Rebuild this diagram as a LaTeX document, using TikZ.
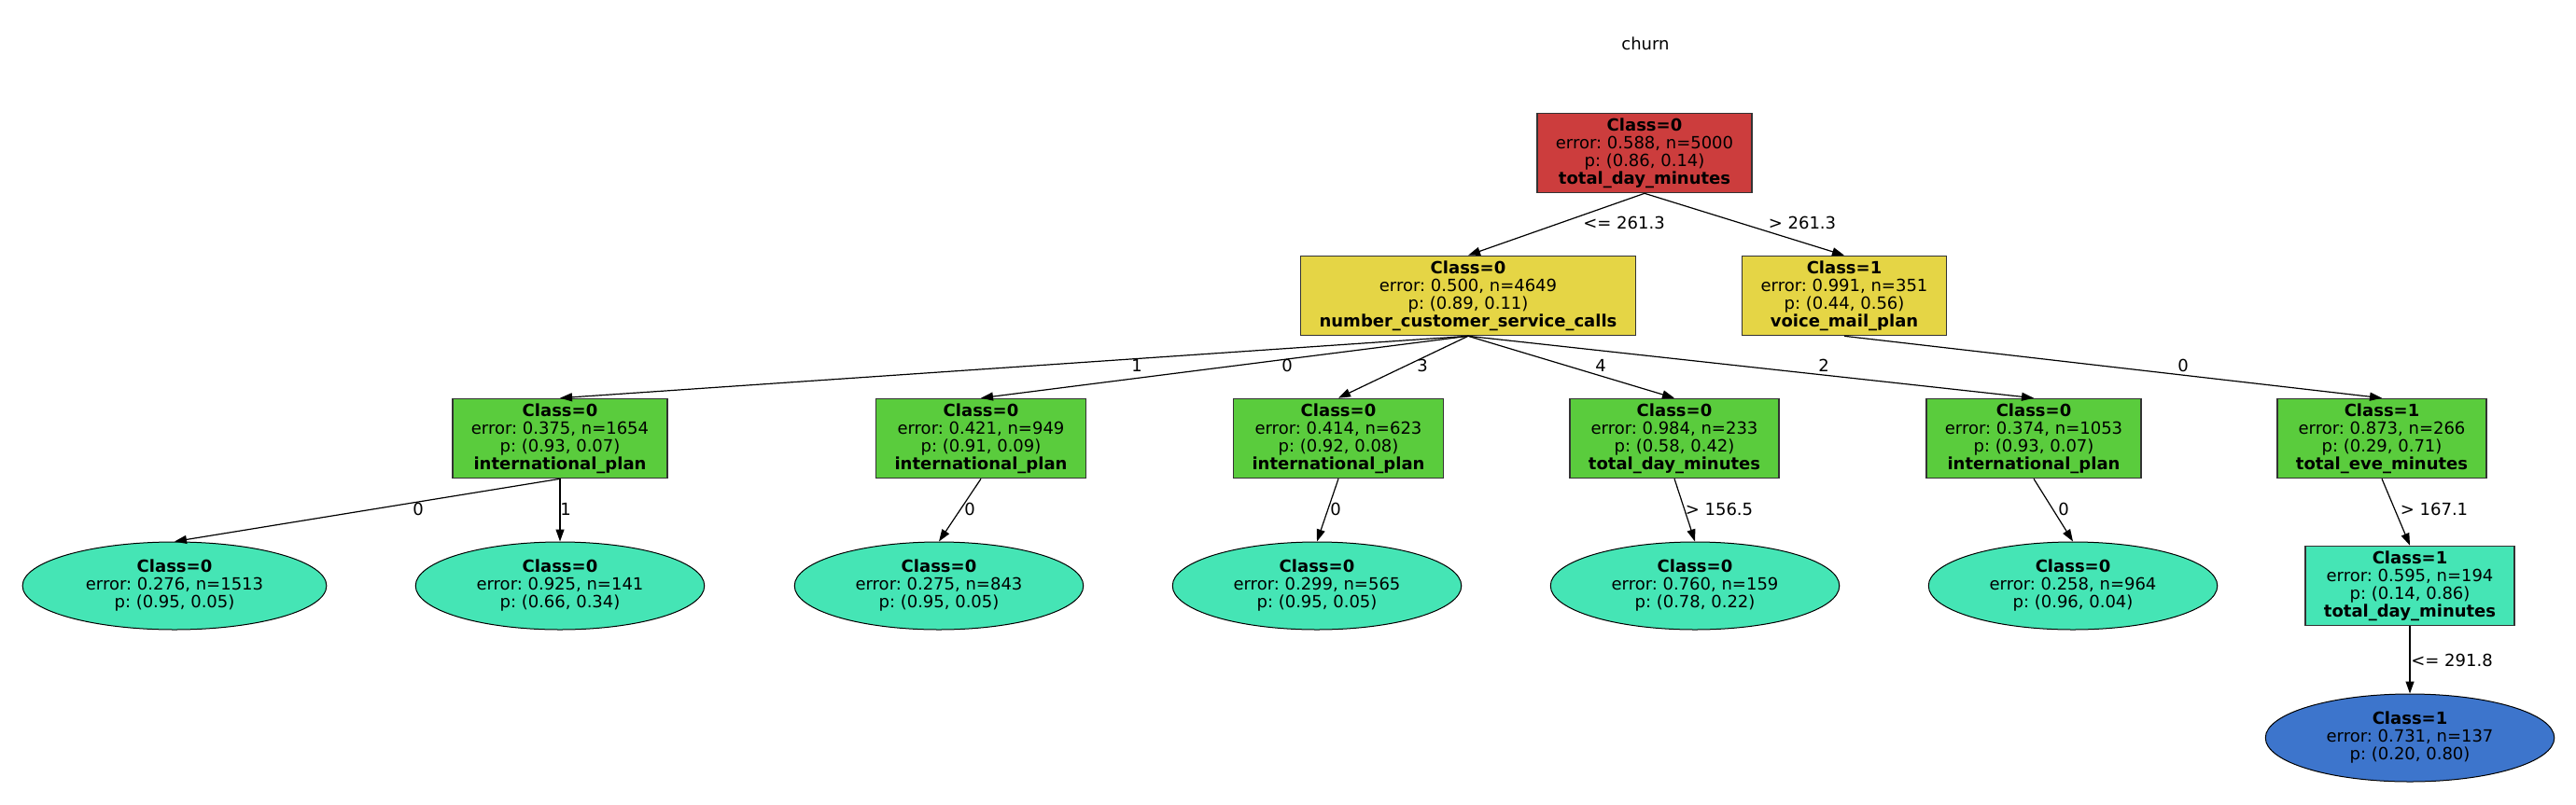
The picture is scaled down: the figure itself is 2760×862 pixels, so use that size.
\documentclass[tikz,border=0pt]{standalone}
\usepackage{fontspec}
\setmainfont{DejaVu Sans}
\usepackage{tikz}
\usetikzlibrary{arrows.meta,shapes.geometric}
\definecolor{rootred}{RGB}{204,61,61}
\definecolor{splityellow}{RGB}{229,213,69}
\definecolor{splitgreen}{RGB}{90,204,61}
\definecolor{leafteal}{RGB}{69,229,181}
\definecolor{leafblue}{RGB}{61,117,204}
\def\splitinfo#1#2#3#4{\textbf{#1}\\error: #2\\p: #3\\\textbf{#4}}
\def\leafinfo#1#2#3{\textbf{#1}\\error: #2\\p: #3}
\frenchspacing
\tikzset{
	every node/.style={font=\fontsize{9}{9.5}\selectfont},
	split/.style={draw=black!80, line width=0.8pt, rectangle, align=center, inner xsep=10pt, inner ysep=2.5pt, minimum height=42.5pt},
	leaf/.style={draw=black, line width=0.5pt, ellipse, align=center, inner xsep=10pt, inner ysep=2.5pt, minimum height=47pt},
	branch/.style={-{Triangle[length=6.5pt,width=4.5pt]}, line width=0.6pt},
	cond/.style={inner sep=0pt}
}

\begin{document}
\begin{tikzpicture}[x=0.5pt,y=-0.5pt]
		%%%%% START %%%%%
		\useasboundingbox (0,0) rectangle (2760,862);
		
		\node (title) at (1763,47) {churn};
		
		\node[split, fill=rootred] (root) at (1762,164) {\splitinfo{Class=0}{0.588, n=5000}{(0.86, 0.14)}{total\_day\_minutes}};
		
		\node[split, fill=splityellow] (calls) at (1573,317) {\splitinfo{Class=0}{0.500, n=4649}{(0.89, 0.11)}{number\_customer\_service\_calls}};
		\node[split, fill=splityellow] (vmail) at (1976,317) {\splitinfo{Class=1}{0.991, n=351}{(0.44, 0.56)}{voice\_mail\_plan}};
		
		\node[split, fill=splitgreen] (intlA) at (600,470) {\splitinfo{Class=0}{0.375, n=1654}{(0.93, 0.07)}{international\_plan}};
		\node[split, fill=splitgreen] (intlB) at (1051,470) {\splitinfo{Class=0}{0.421, n=949}{(0.91, 0.09)}{international\_plan}};
		\node[split, fill=splitgreen] (intlC) at (1434,470) {\splitinfo{Class=0}{0.414, n=623}{(0.92, 0.08)}{international\_plan}};
		\node[split, fill=splitgreen] (dayA) at (1794,470) {\splitinfo{Class=0}{0.984, n=233}{(0.58, 0.42)}{total\_day\_minutes}};
		\node[split, fill=splitgreen] (intlD) at (2179,470) {\splitinfo{Class=0}{0.374, n=1053}{(0.93, 0.07)}{international\_plan}};
		\node[split, fill=splitgreen] (eve) at (2552,470) {\splitinfo{Class=1}{0.873, n=266}{(0.29, 0.71)}{total\_eve\_minutes}};
		
		\node[leaf, fill=leafteal] (leafA) at (187,628) {\leafinfo{Class=0}{0.276, n=1513}{(0.95, 0.05)}};
		\node[leaf, fill=leafteal] (leafB) at (600,628) {\leafinfo{Class=0}{0.925, n=141}{(0.66, 0.34)}};
		\node[leaf, fill=leafteal] (leafC) at (1006,628) {\leafinfo{Class=0}{0.275, n=843}{(0.95, 0.05)}};
		\node[leaf, fill=leafteal] (leafD) at (1411,628) {\leafinfo{Class=0}{0.299, n=565}{(0.95, 0.05)}};
		\node[leaf, fill=leafteal] (leafE) at (1816,628) {\leafinfo{Class=0}{0.760, n=159}{(0.78, 0.22)}};
		\node[leaf, fill=leafteal] (leafF) at (2221,628) {\leafinfo{Class=0}{0.258, n=964}{(0.96, 0.04)}};
		\node[split, fill=leafteal] (dayB) at (2582,628) {\splitinfo{Class=1}{0.595, n=194}{(0.14, 0.86)}{total\_day\_minutes}};
		
		\node[leaf, fill=leafblue] (leafG) at (2582,791) {\leafinfo{Class=1}{0.731, n=137}{(0.20, 0.80)}};
		
		% branches
		\draw[branch] (root.south) -- (calls.north);
		\draw[branch] (root.south) -- (vmail.north);
		\draw[branch] (calls.south) -- (intlA.north);
		\draw[branch] (calls.south) -- (intlB.north);
		\draw[branch] (calls.south) -- (intlC.north);
		\draw[branch] (calls.south) -- (dayA.north);
		\draw[branch] (calls.south) -- (intlD.north);
		\draw[branch] (vmail.south) -- (eve.north);
		\draw[branch] (intlA.south) -- (leafA.north);
		\draw[branch] (intlA.south) -- (leafB.north);
		\draw[branch] (intlB.south) -- (leafC.north);
		\draw[branch] (intlC.south) -- (leafD.north);
		\draw[branch] (dayA.south) -- (leafE.north);
		\draw[branch] (intlD.south) -- (leafF.north);
		\draw[branch] (eve.south) -- (dayB.north);
		\draw[branch] (dayB.south) -- (leafG.north);
		
		% conditions
		\node[cond] (c1) at (1740,239) {<= 261.3};
		\node[cond] (c2) at (1931,239) {> 261.3};
		\node[cond] (c3) at (1218,392) {1};
		\node[cond] (c4) at (1379,392) {0};
		\node[cond] (c5) at (1524,392) {3};
		\node[cond] (c6) at (1715,392) {4};
		\node[cond] (c7) at (1954,392) {2};
		\node[cond] (c8) at (2339,392) {0};
		\node[cond] (c9) at (448,546) {0};
		\node[cond] (c10) at (606,546) {1};
		\node[cond] (c11) at (1039,546) {0};
		\node[cond] (c12) at (1431,546) {0};
		\node[cond] (c13) at (1842,546) {> 156.5};
		\node[cond] (c14) at (2211,546) {0};
		\node[cond] (c15) at (2608,546) {> 167.1};
		\node[cond] (c16) at (2627,708) {<= 291.8};
		
		%%%%% END %%%%%
\end{tikzpicture}
\end{document}
